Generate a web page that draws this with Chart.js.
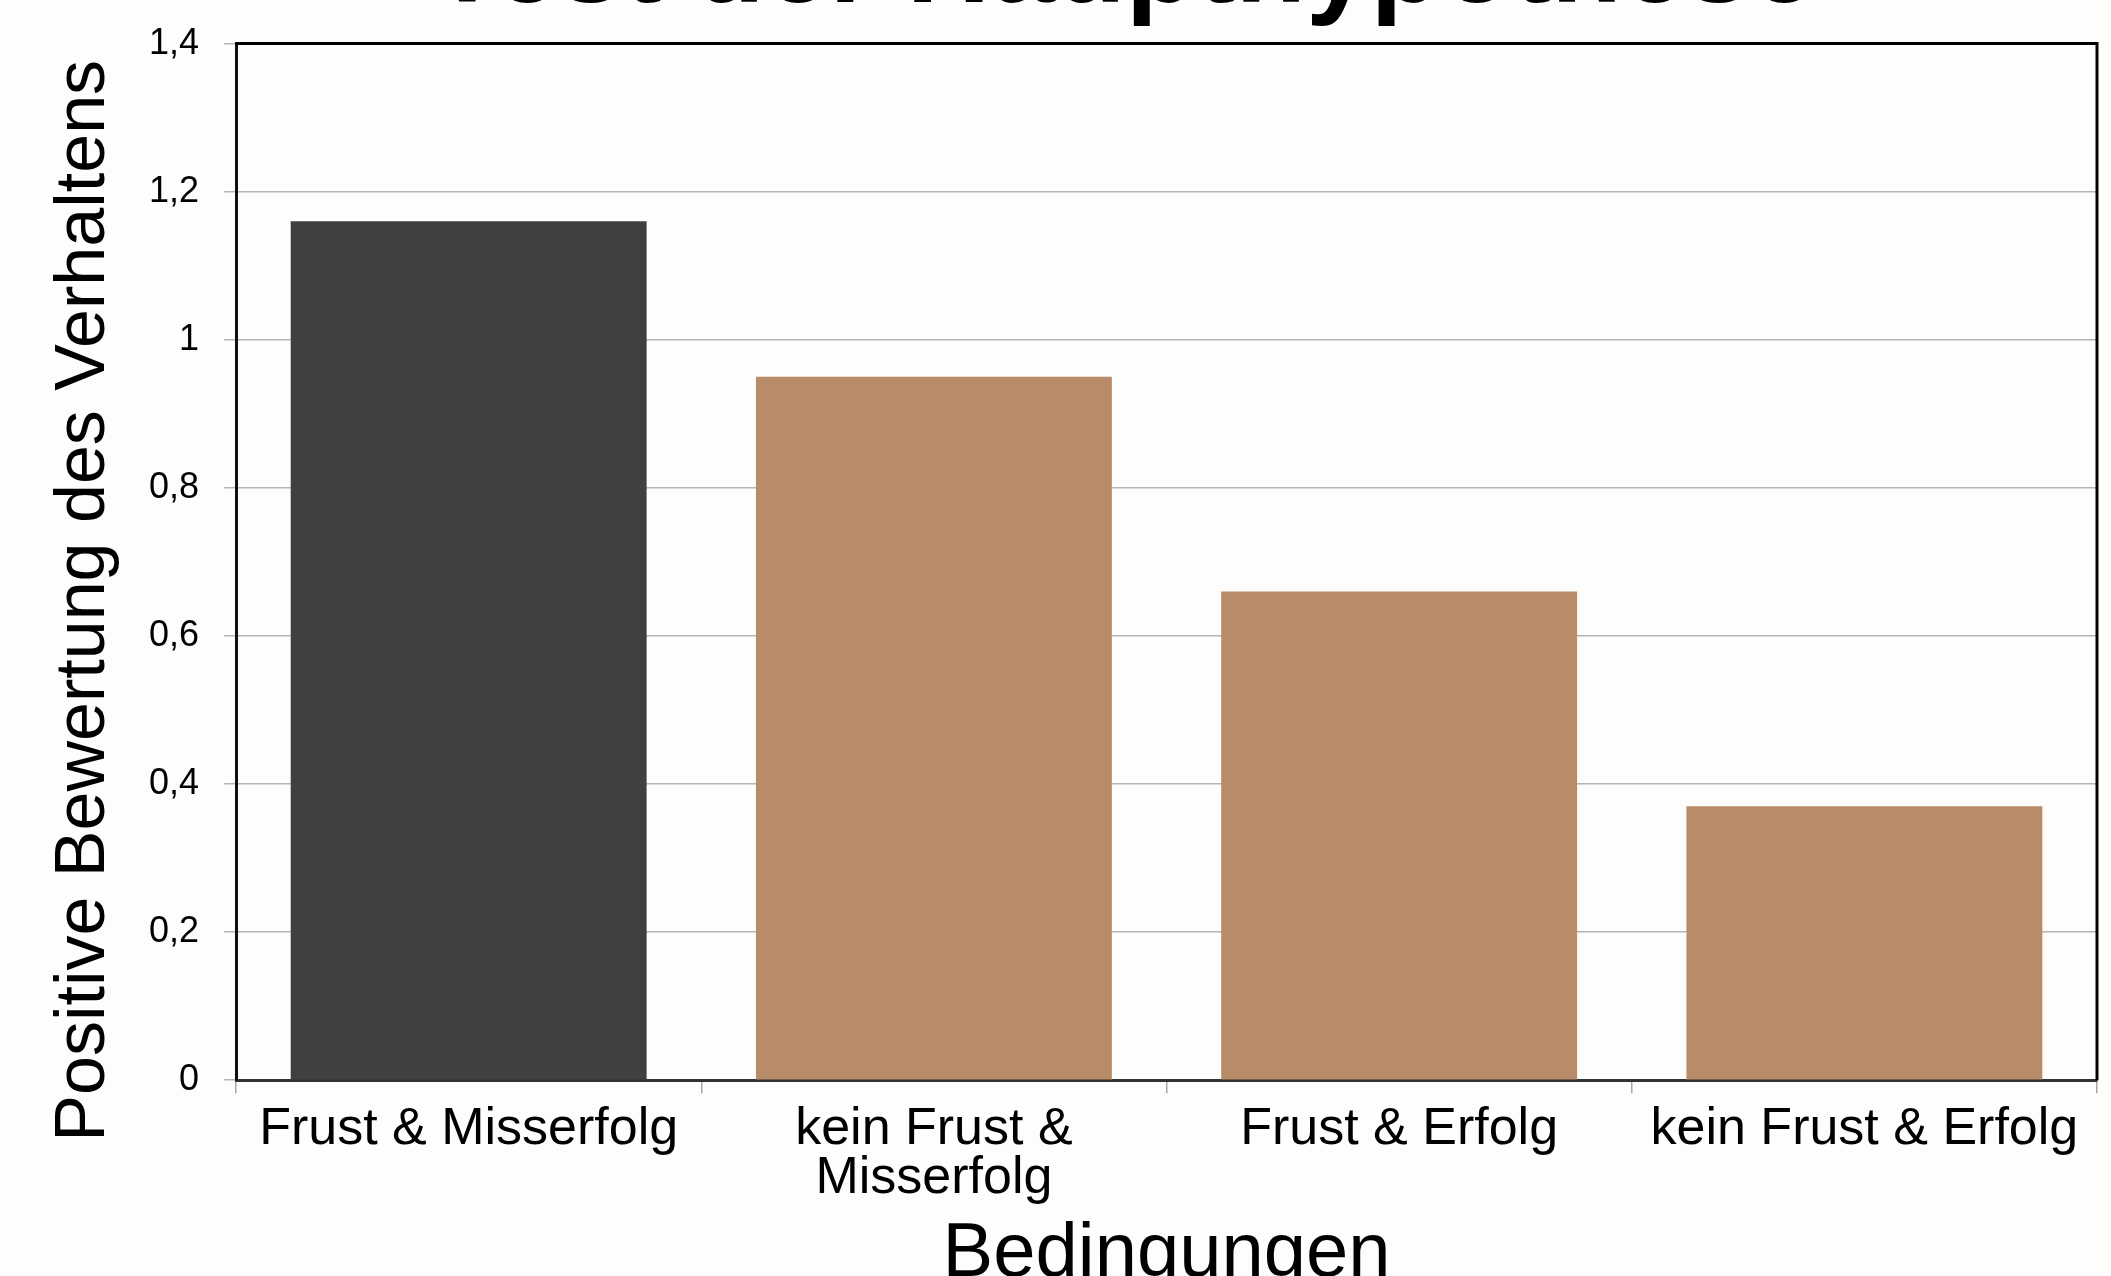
<!DOCTYPE html>
<html>
<head>
<meta charset="utf-8">
<script src="https://cdn.jsdelivr.net/npm/chart.js@4.4.1/dist/chart.umd.min.js"></script>
<style>
  html, body { margin: 0; padding: 0; width: 2111px; height: 1276px; overflow: hidden; background: #fdfdfb; }
  #wrap { position: absolute; left: 0; top: -100px; width: 2111px; height: 1393px; }
</style>
</head>
<body>
<div id="wrap"><canvas id="barChart"></canvas></div>
<script>
var conditions = ['Frust & Misserfolg', ['kein Frust &', 'Misserfolg'], 'Frust & Erfolg', 'kein Frust & Erfolg'];
var ratings = [1.16, 0.95, 0.66, 0.37];
var barColors = ['#404040', '#b98c69', '#b98c69', '#b98c69'];
var yTickLabels = ['0', '0,2', '0,4', '0,6', '0,8', '1', '1,2', '1,4'];

Chart.defaults.font.family = '"Liberation Sans", Arial, sans-serif';
Chart.defaults.color = '#000';

// top and right edge of the plot frame
var frame = {
  id: 'frame',
  afterDatasetsDraw: function(chart) {
    var a = chart.chartArea, ctx = chart.ctx;
    ctx.save();
    ctx.strokeStyle = '#000';
    ctx.lineWidth = 3;
    ctx.beginPath();
    ctx.moveTo(a.left, a.top);
    ctx.lineTo(a.right, a.top);
    ctx.lineTo(a.right, a.bottom);
    ctx.stroke();
    ctx.restore();
  }
};

var barChart = document.getElementById('barChart').getContext('2d');
var myBarChart = new Chart(barChart, {
  type: 'bar',
  data: {
    labels: conditions,
    datasets: [{
      label: 'Positive Bewertung',
      data: ratings,
      backgroundColor: barColors,
      barPercentage: 0.765,
      categoryPercentage: 1
    }]
  },
  options: {
    responsive: true,
    maintainAspectRatio: false,
    animation: false,
    devicePixelRatio: 1,
    layout: { padding: { left: 150, right: 14, top: 0, bottom: 0 } },
    plugins: {
      legend: { display: false },
      tooltip: { enabled: false },
      title: {
        display: true,
        text: 'Test der Haupthypothese',
        font: { size: 116, weight: 'bold', lineHeight: 1.2 },
        padding: { top: 0, bottom: 4.4 }
      }
    },
    scales: {
      x: {
        grid: { offset: true, drawOnChartArea: false, drawTicks: true, tickLength: 13, color: '#a8a8a8', lineWidth: 1.5 },
        border: { display: true, color: '#333', width: 3 },
        ticks: { font: { size: 52, lineHeight: 0.94 }, padding: 12, maxRotation: 0, autoSkip: false },
        title: {
          display: true,
          text: 'Bedingungen',
          font: { size: 76, lineHeight: 1 },
          padding: { top: 2, bottom: 0 }
        }
      },
      y: {
        min: 0,
        max: 1.4,
        grid: { color: '#b4b4b4', lineWidth: 1.5, tickLength: 12, drawTicks: true },
        border: { display: true, color: '#111', width: 3 },
        ticks: {
          stepSize: 0.2,
          padding: 25,
          font: { size: 36 },
          callback: function(value, index) { return yTickLabels[index]; }
        },
        title: {
          display: true,
          text: 'Positive Bewertung des Verhaltens    ',
          font: { size: 70, lineHeight: 1 },
          padding: { top: -100, bottom: 4 }
        }
      }
    }
  },
  plugins: [frame]
});
</script>
</body>
</html>
